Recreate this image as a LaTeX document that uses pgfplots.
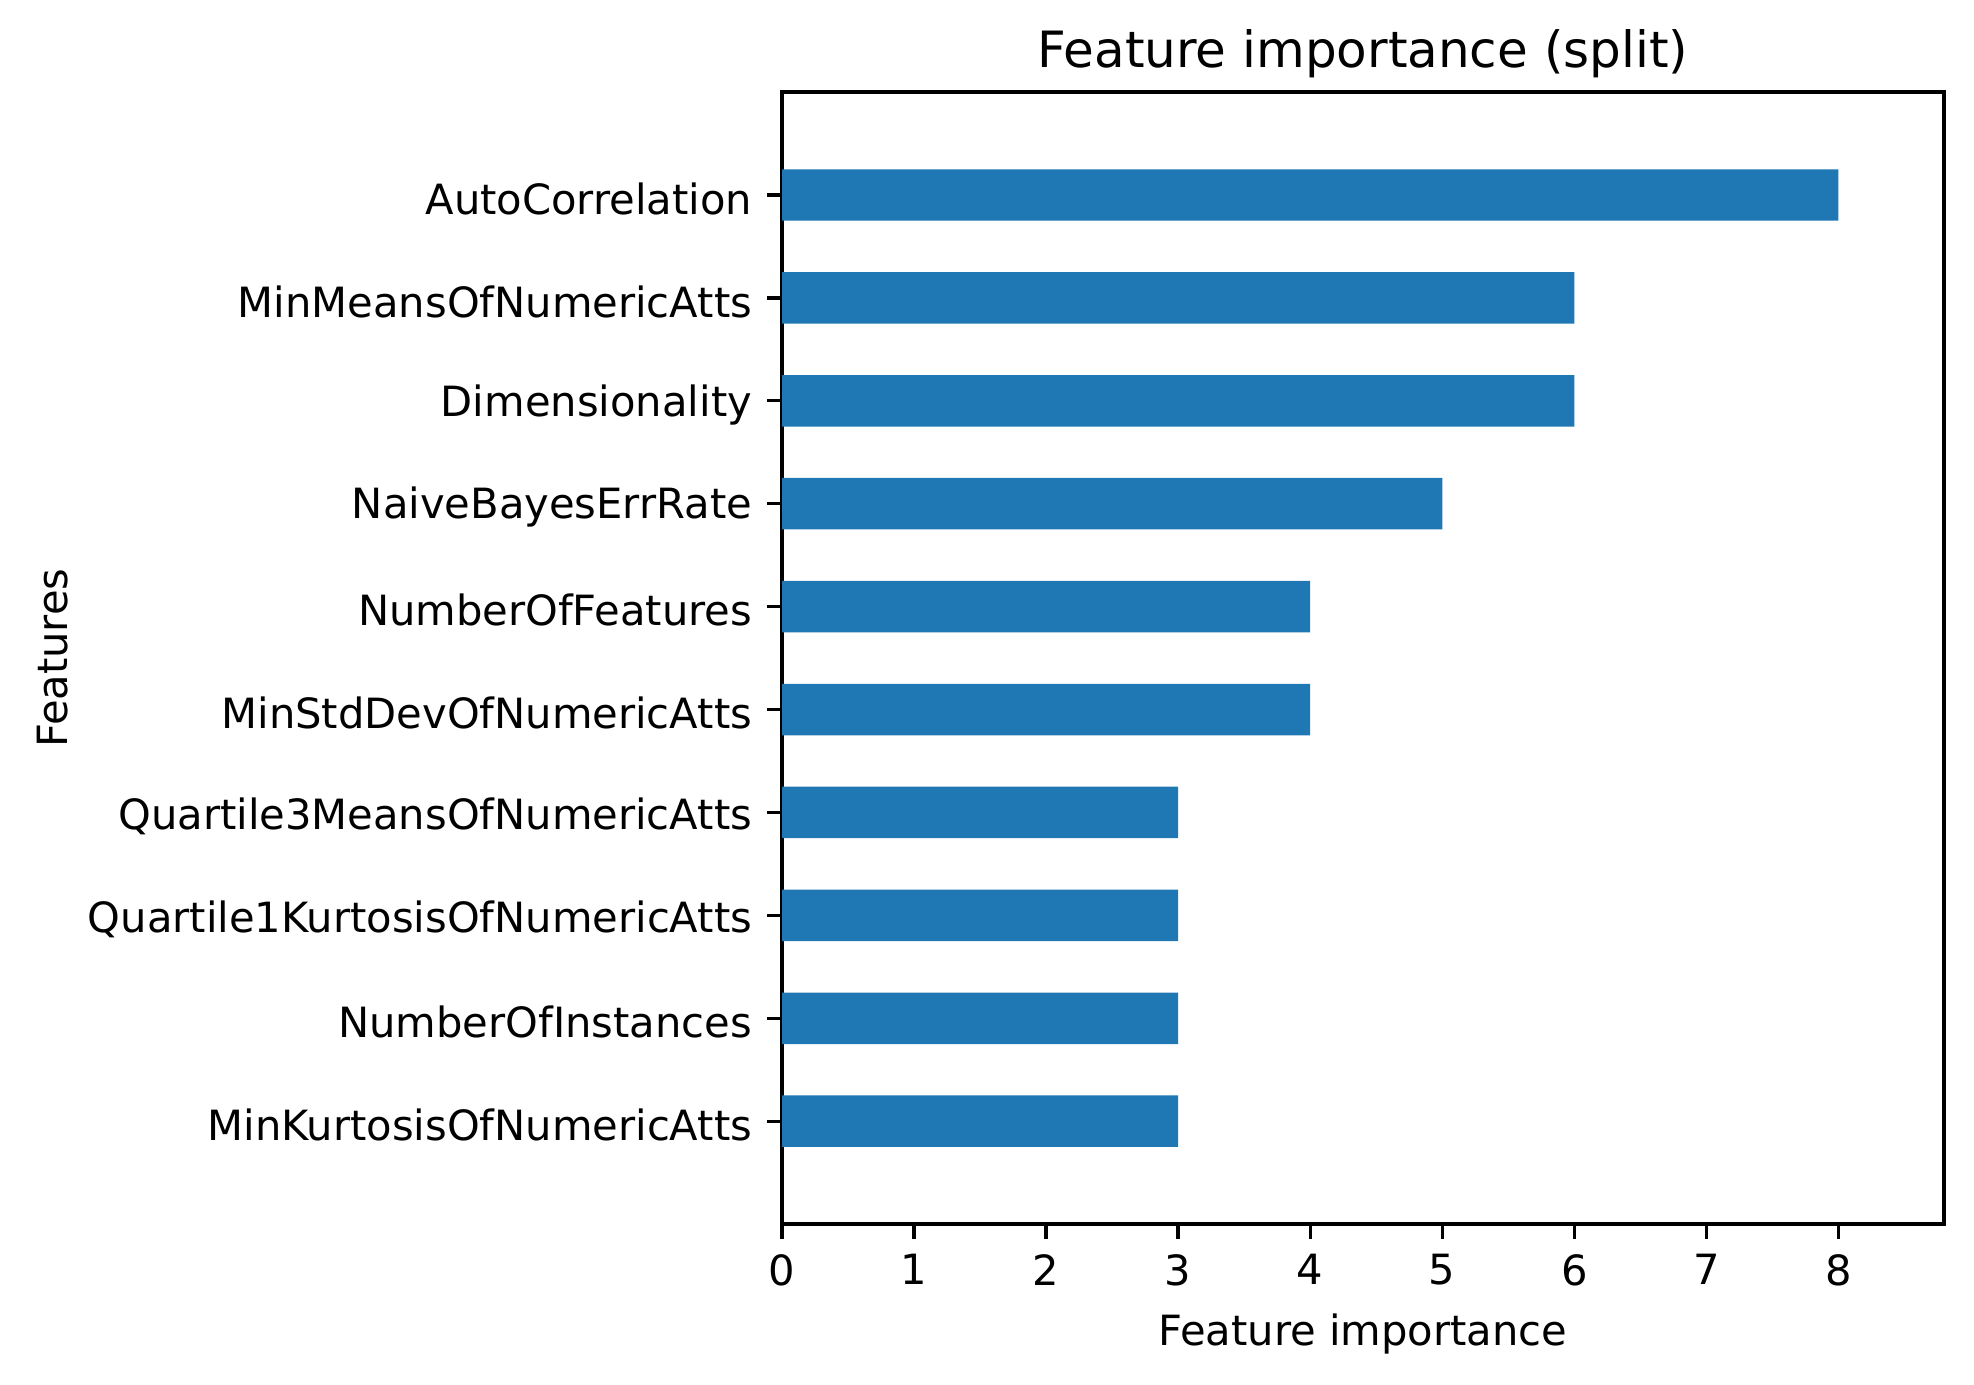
\documentclass[border=0pt]{standalone}
\usepackage{fontspec}
\setmainfont{DejaVu Sans}
\usepackage{pgfplots}
\pgfplotsset{compat=1.18}
\definecolor{mplblue}{HTML}{1F77B4}

\begin{document}
\fontsize{10}{12}\selectfont
\begin{tikzpicture}
\begin{axis}[
    scale only axis,
    width=278.9pt,
    height=271.7pt,
    xmin=0, xmax=8.8,
    ymin=-1, ymax=10,
    xbar,
    bar width=0.5,
    axis line style={line width=0.8pt},
    tick style={line width=0.8pt, black},
    tick align=outside,
    major tick length=3.5pt,
    xtick={0,1,2,3,4,5,6,7,8},
    ytick={0,1,2,3,4,5,6,7,8,9},
    yticklabels={MinKurtosisOfNumericAtts,NumberOfInstances,Quartile1KurtosisOfNumericAtts,Quartile3MeansOfNumericAtts,MinStdDevOfNumericAtts,NumberOfFeatures,NaiveBayesErrRate,Dimensionality,MinMeansOfNumericAtts,AutoCorrelation},
    xtick pos=bottom,
    ytick pos=left,
    /pgf/number format/assume math mode=true,
    ticklabel style={font=\fontsize{10}{12}\selectfont},
    yticklabel style={inner sep=0pt, xshift=-3.5pt, yshift=-0.9pt},
    xticklabel style={inner sep=0pt, yshift=-3.5pt},
    title={Feature importance (split)},
    title style={font=\fontsize{12}{14}\selectfont, at={(0.5,1)}, anchor=base, inner sep=0pt, yshift=0pt},
    xlabel={Feature importance},
    ylabel={Features},
    label style={font=\fontsize{10}{12}\selectfont},
    xlabel style={yshift=-3.3pt},
    ylabel style={yshift=1.2pt},
]
\addplot[fill=mplblue, draw=none] coordinates {
    (3,0) (3,1) (3,2) (3,3) (4,4) (4,5) (5,6) (6,7) (6,8) (8,9)
};
\end{axis}
\path ([shift={(-187.7pt,-38.6pt)}]current axis.south west) rectangle ([shift={(7.2pt,22.1pt)}]current axis.north east);
\end{tikzpicture}
\end{document}
